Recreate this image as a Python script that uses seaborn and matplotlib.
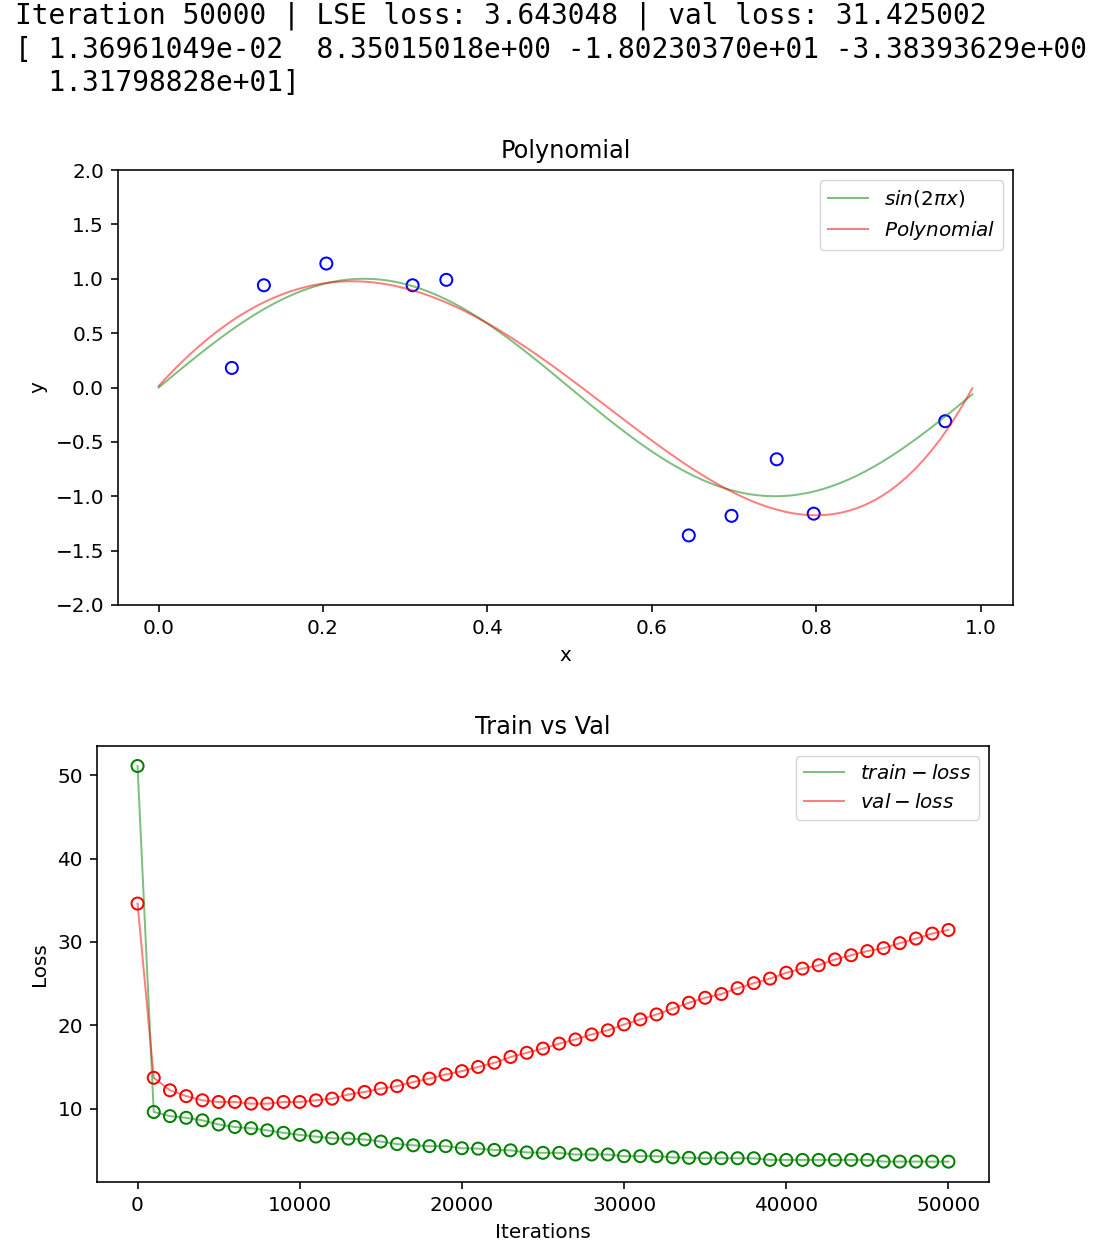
import numpy as np
import pandas as pd
import matplotlib
matplotlib.use("Agg")
import matplotlib.pyplot as plt
import seaborn as sns

# ---------------- data ----------------
header_line1 = "Iteration 50000 | LSE loss: 3.643048 | val loss: 31.425002"
header_line2 = "[ 1.36961049e-02  8.35015018e+00 -1.80230370e+01 -3.38393629e+00"
header_line3 = "  1.31798828e+01]"

# fitted polynomial weights (w0 .. w4), as printed above the chart
poly_coeffs = [1.36961049e-02, 8.35015018e+00, -1.80230370e+01, -3.38393629e+00, 1.31798828e+01]

# noisy sample points
sample_x = [0.089, 0.128, 0.204, 0.309, 0.350, 0.645, 0.697, 0.752, 0.797, 0.957]
sample_y = [0.18, 0.94, 1.14, 0.94, 0.99, -1.36, -1.18, -0.66, -1.16, -0.31]

# loss curves, one point every 1000 iterations
iterations = list(range(0, 50001, 1000))
train_loss = [51.1, 9.6, 9.1, 8.9, 8.6, 8.1, 7.8, 7.65, 7.4, 7.1,
              6.85, 6.65, 6.45, 6.4, 6.3, 6.05, 5.75, 5.6, 5.5, 5.5,
              5.25, 5.2, 5.05, 5.0, 4.75, 4.7, 4.7, 4.5, 4.5, 4.5,
              4.3, 4.3, 4.3, 4.15, 4.1, 4.05, 4.05, 4.05, 4.05, 3.85,
              3.85, 3.85, 3.85, 3.85, 3.85, 3.85, 3.65, 3.65, 3.65, 3.65,
              3.64]
val_loss = [34.6, 13.7, 12.2, 11.5, 11.0, 10.8, 10.8, 10.6, 10.6, 10.8,
            10.8, 11.0, 11.2, 11.7, 12.0, 12.4, 12.7, 13.2, 13.6, 14.1,
            14.5, 15.0, 15.5, 16.2, 16.7, 17.2, 17.8, 18.3, 18.9, 19.4,
            20.1, 20.7, 21.3, 22.0, 22.7, 23.3, 23.75, 24.45, 25.05, 25.6,
            26.3, 26.8, 27.2, 27.9, 28.4, 28.9, 29.25, 29.85, 30.4, 31.0,
            31.43]

# ---------------- style ----------------
S = 1.44  # retina-like scale of the original notebook figure
plt.rcParams.update({
    "font.family": ["DejaVu Sans"],
    "font.size": 10 * S,
    "axes.titlesize": 12 * S,
    "axes.labelsize": 10 * S,
    "xtick.labelsize": 10 * S,
    "ytick.labelsize": 10 * S,
    "legend.fontsize": 10 * S,
    "axes.linewidth": 0.8 * S,
    "xtick.major.size": 3.5 * S,
    "ytick.major.size": 3.5 * S,
    "xtick.major.width": 0.8 * S,
    "ytick.major.width": 0.8 * S,
    "xtick.major.pad": 3.5 * S,
    "ytick.major.pad": 3.5 * S,
    "axes.labelpad": 4 * S,
    "axes.titlepad": 6 * S,
    "lines.linewidth": 1.0 * S,
    "mathtext.fontset": "dejavusans",
})

W, H = 1110, 1250
fig = plt.figure(figsize=(W / 100, H / 100), dpi=100)

# header text (notebook output)
mono = dict(family="DejaVu Sans Mono", fontsize=20.1, color="black", va="center", ha="left")
fig.text(15 / W, 1 - 16 / H, header_line1, **mono)
fig.text(15 / W, 1 - 50 / H, header_line2, **mono)
fig.text(15 / W, 1 - 83 / H, header_line3, **mono)

# ---------------- top: polynomial fit ----------------
ax1 = fig.add_axes([118 / W, 1 - 605 / H, 895 / W, 435 / H])
xs = np.arange(0, 1, 0.01)
curve_df = pd.DataFrame({
    "x": xs,
    "sin": np.sin(2 * np.pi * xs),
    "poly": np.polynomial.polynomial.polyval(xs, poly_coeffs),
})
sns.lineplot(data=curve_df, x="x", y="sin", color="g", alpha=0.5, lw=1.0 * S,
             label=r"$sin(2\pi x)$", ax=ax1)
sns.lineplot(data=curve_df, x="x", y="poly", color="r", alpha=0.5, lw=1.0 * S,
             label=r"$Polynomial$", ax=ax1)
pts = pd.DataFrame({"x": sample_x, "y": sample_y})
sns.scatterplot(data=pts, x="x", y="y", marker="o", s=(6 * S) ** 2,
                facecolor="none", edgecolor="b", linewidth=1.0 * S, legend=False, ax=ax1)
ax1.set_ylim(-2.0, 2.0)
ax1.set_xlim(-0.0495, 1.0395)
ax1.set_xticks([0.0, 0.2, 0.4, 0.6, 0.8, 1.0])
ax1.set_yticks(np.arange(-2.0, 2.01, 0.5))
ax1.set_title("Polynomial")
ax1.set_xlabel("x")
ax1.set_ylabel("y")
ax1.legend(loc="upper right")

# ---------------- bottom: train vs val ----------------
ax2 = fig.add_axes([97 / W, 1 - 1182 / H, 892 / W, 436 / H])
loss_df = pd.DataFrame({"it": iterations, "train": train_loss, "val": val_loss})
sns.lineplot(data=loss_df, x="it", y="train", color="g", alpha=0.5, lw=1.0 * S,
             label=r"$train-loss$", ax=ax2)
sns.lineplot(data=loss_df, x="it", y="val", color="r", alpha=0.5, lw=1.0 * S,
             label=r"$val-loss$", ax=ax2)
sns.scatterplot(data=loss_df, x="it", y="train", marker="o", s=(6 * S) ** 2,
                facecolor="none", edgecolor="g", linewidth=1.0 * S, legend=False, ax=ax2)
sns.scatterplot(data=loss_df, x="it", y="val", marker="o", s=(6 * S) ** 2,
                facecolor="none", edgecolor="r", linewidth=1.0 * S, legend=False, ax=ax2)
ax2.set_xlim(-2500, 52500)
ax2.set_ylim(1.2, 53.5)
ax2.set_xticks([0, 10000, 20000, 30000, 40000, 50000])
ax2.set_yticks([10, 20, 30, 40, 50])
ax2.set_title("Train vs Val")
ax2.set_xlabel("Iterations")
ax2.set_ylabel("Loss")
ax2.legend(loc="upper right")

fig.savefig("out.png", dpi=100)
